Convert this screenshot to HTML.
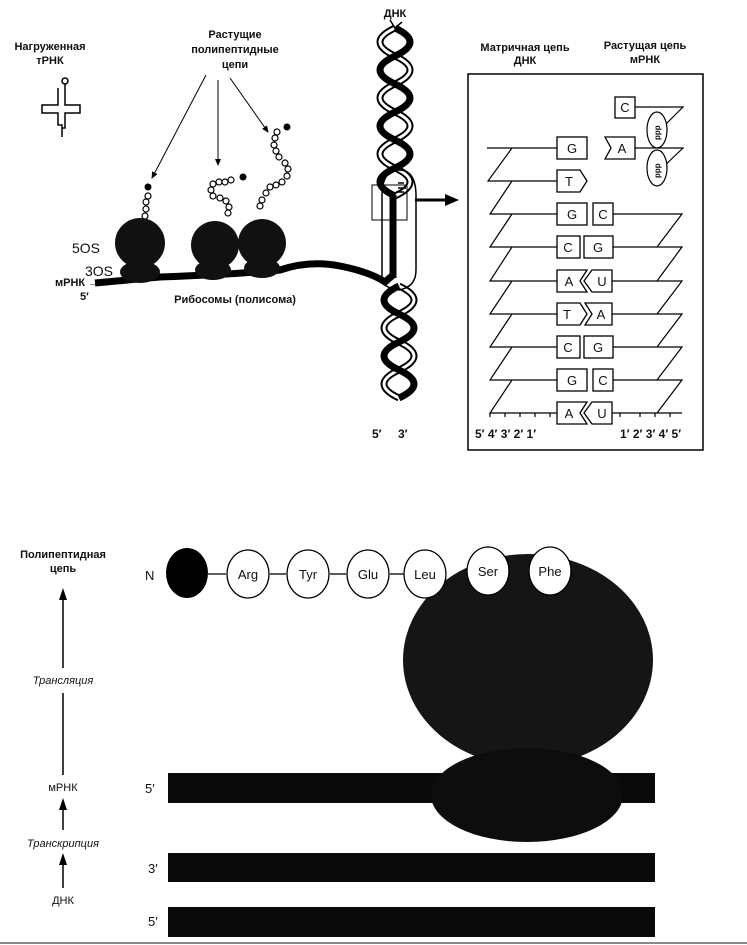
<!DOCTYPE html>
<html><head><meta charset="utf-8"><style>
body{margin:0;background:#fff;}
svg{display:block;font-family:"Liberation Sans",sans-serif;}
</style></head><body>
<svg width="747" height="945" viewBox="0 0 747 945" xmlns="http://www.w3.org/2000/svg">
<defs>
<marker id="ah" markerWidth="8" markerHeight="8" refX="6" refY="4" orient="auto"><path d="M0,1 L7,4 L0,7z" fill="#000"/></marker>
</defs>
<g font-weight="bold" font-size="11" text-anchor="middle" fill="#111">
<text x="50" y="50">Нагруженная</text><text x="50" y="64">тРНК</text>
<text x="235" y="38">Растущие</text><text x="235" y="53">полипептидные</text><text x="235" y="68">цепи</text>
<text x="395" y="17">ДНК</text>
<text x="525" y="51">Матричная  цепь</text><text x="525" y="64">ДНК</text>
<text x="645" y="49">Растущая цепь</text><text x="645" y="63">мРНК</text>
<text x="235" y="303">Рибосомы  (полисома)</text>
</g>
<!-- tRNA -->
<g stroke="#000" fill="none" stroke-width="1.5">
<circle cx="65" cy="81" r="3"/>
<path d="M65,84 V98 M58,88 V105 H42 V113 H58 V125 H62 V137 M65,98 V105 H80 V113 H65 V128 H62"/>
</g>
<!-- arrows from label -->
<g stroke="#000" stroke-width="1" fill="none" marker-end="url(#ah)">
<line x1="206" y1="75" x2="152" y2="178"/>
<line x1="218" y1="80" x2="218" y2="165"/>
<line x1="230" y1="78" x2="268" y2="132"/>
</g>
<!-- chains -->
<g stroke="#000" stroke-width="1.2" fill="#fff">
<circle cx="148" cy="196" r="3"/><circle cx="146" cy="202" r="3"/><circle cx="146" cy="209" r="3"/><circle cx="145" cy="216" r="3"/>
<circle cx="213" cy="184" r="3"/><circle cx="219" cy="182" r="3"/><circle cx="225" cy="182" r="3"/><circle cx="231" cy="180" r="3"/><circle cx="211" cy="190" r="3"/><circle cx="213" cy="196" r="3"/><circle cx="220" cy="198" r="3"/><circle cx="226" cy="201" r="3"/><circle cx="229" cy="207" r="3"/><circle cx="228" cy="213" r="3"/>
<circle cx="277" cy="132" r="3"/><circle cx="275" cy="138" r="3"/><circle cx="274" cy="145" r="3"/><circle cx="276" cy="151" r="3"/><circle cx="279" cy="157" r="3"/><circle cx="285" cy="163" r="3"/><circle cx="288" cy="169" r="3"/><circle cx="287" cy="176" r="3"/><circle cx="282" cy="182" r="3"/><circle cx="276" cy="185" r="3"/><circle cx="270" cy="187" r="3"/><circle cx="266" cy="193" r="3"/><circle cx="262" cy="200" r="3"/><circle cx="260" cy="206" r="3"/>
</g>
<circle cx="148" cy="187" r="3.5"/><circle cx="243" cy="177" r="3.5"/><circle cx="287" cy="127" r="3.5"/>
<!-- mRNA -->
<path d="M95,283 L160,277 Q240,274 280,270 Q310,260 340,266 Q370,272 385,282 L393,275 V195" stroke="#000" stroke-width="7" fill="none"/>
<!-- ribosomes -->
<g fill="#111">
<circle cx="140" cy="243" r="25"/><ellipse cx="140" cy="272" rx="20" ry="11"/>
<circle cx="215" cy="245" r="24"/><ellipse cx="213" cy="270" rx="18" ry="10"/>
<circle cx="262" cy="243" r="24"/><ellipse cx="262" cy="268" rx="18" ry="10"/>
</g>
<g font-size="14" fill="#111"><text x="72" y="253">5OS</text><text x="85" y="276">3OS</text></g>
<g font-size="11" fill="#111" font-weight="bold"><text x="55" y="286">мРНК →</text><text x="80" y="300">5′</text></g>
<!-- helix -->
<g fill="none">
<path d="M395,28 q-30,14 0,28 t0,28 t0,28 t0,28 t0,28 t0,28" stroke="#000" stroke-width="7"/>
<path d="M395,28 q-30,14 0,28 t0,28 t0,28 t0,28 t0,28 t0,28" stroke="#fff" stroke-width="3"/>
<path d="M395,28 q30,14 0,28 t0,28 t0,28 t0,28 t0,28 t0,28" stroke="#000" stroke-width="7"/>
<path d="M399,286 q30,14 0,28 t0,28 t0,28 t0,28" stroke="#000" stroke-width="7"/>
<path d="M399,286 q30,14 0,28 t0,28 t0,28 t0,28" stroke="#fff" stroke-width="3"/>
<path d="M399,286 q-30,14 0,28 t0,28 t0,28 t0,28" stroke="#000" stroke-width="7"/>
<path d="M390,20 L395,28 L402,22" stroke="#000" stroke-width="1.5"/>
<path d="M382,196 Q382,170 399,170 Q416,170 416,196 V270 Q416,287 399,290 Q382,287 382,280 Z" stroke="#000" stroke-width="1.5"/>
<rect x="372" y="185" width="35" height="35" stroke="#000" stroke-width="1"/>
<path d="M398,183 h6 M398,188 h8 M396,192 h8" stroke="#000" stroke-width="1.5"/>
</g>
<path d="M393,195 V278" stroke="#000" stroke-width="7"/>
<path d="M415,200 H448" stroke="#000" stroke-width="3"/><path d="M445,194 L459,200 L445,206z"/>
<g font-size="12" font-weight="bold" fill="#111"><text x="372" y="438">5′</text><text x="398" y="438">3′</text></g>
<!-- right box -->
<rect x="468" y="74" width="235" height="376" fill="none" stroke="#000" stroke-width="1.5"/>
<g stroke="#000" stroke-width="1.2" fill="none">
<path d="M487,148 H557 M512,148 L488,181 H557 M512,181 L490,214 H557 M512,214 L490,247 H557 M512,247 L490,281 H557 M512,281 L490,314 H557 M512,314 L490,347 H557 M512,347 L490,380 H557 M512,380 L490,413 H557 M510,413 L490,413"/>
<path d="M612,214 H682 L657,247 M612,247 H682 L657,281 M612,281 H682 L657,314 M612,314 H682 L657,347 M612,347 H682 L657,380 M612,380 H682 L657,413 M612,413 H682"/>
<path d="M490,413 v4 M505,413 v4 M520,413 v4 M535,413 v4 M550,413 v4 M620,413 v4 M640,413 v4 M655,413 v4 M670,413 v4"/>
<path d="M635,107 H683 L660,130 M635,148 H683 L660,170"/>
<ellipse cx="657" cy="130" rx="10" ry="18" fill="#fff"/><ellipse cx="657" cy="168" rx="10" ry="18" fill="#fff"/>
</g>
<g font-size="8" font-weight="bold" fill="#111"><text transform="translate(660,140) rotate(-90)">ppp</text><text transform="translate(660,178) rotate(-90)">ppp</text></g>
<g stroke="#000" stroke-width="1.3" fill="#fff">
<rect x="615" y="97" width="20" height="21"/>
<path d="M605,137 H635 V159 H605 L611,148 Z"/>
<rect x="557" y="137" width="30" height="22"/>
<path d="M557,170 H580 L587,181 L580,192 H557Z"/>
<rect x="557" y="203" width="30" height="22"/><rect x="593" y="203" width="20" height="22"/>
<rect x="557" y="236" width="23" height="22"/><rect x="584" y="236" width="29" height="22"/>
<path d="M557,270 H587 L580,281 L587,292 H557Z"/><path d="M592,270 H612 V292 H592 L584,281Z"/>
<path d="M557,303 H580 L587,314 L580,325 H557Z"/><path d="M585,303 H612 V325 H585 L592,314Z"/>
<rect x="557" y="336" width="23" height="22"/><rect x="584" y="336" width="29" height="22"/>
<rect x="557" y="369" width="30" height="22"/><rect x="593" y="369" width="20" height="22"/>
<path d="M557,402 H587 L580,413 L587,424 H557Z"/><path d="M592,402 H612 V424 H592 L584,413Z"/>
</g>
<g font-size="13" fill="#111" text-anchor="middle">
<text x="625" y="112">C</text><text x="622" y="153">A</text><text x="572" y="153">G</text><text x="569" y="186">T</text>
<text x="572" y="219">G</text><text x="603" y="219">C</text><text x="568" y="252">C</text><text x="598" y="252">G</text>
<text x="569" y="286">A</text><text x="602" y="286">U</text><text x="567" y="319">T</text><text x="601" y="319">A</text>
<text x="568" y="352">C</text><text x="598" y="352">G</text><text x="572" y="385">G</text><text x="603" y="385">C</text>
<text x="569" y="418">A</text><text x="602" y="418">U</text>
</g>
<g font-size="12" font-weight="bold" fill="#111"><text x="475" y="438">5′ 4′ 3′ 2′ 1′</text><text x="620" y="438">1′ 2′ 3′ 4′ 5′</text></g>
<!-- bottom -->
<g font-size="11" fill="#111" text-anchor="middle">
<text x="63" y="558" font-weight="bold">Полипептидная</text><text x="63" y="572" font-weight="bold">цепь</text>
<text x="63" y="684" font-style="italic">Трансляция</text>
<text x="63" y="791">мРНК</text>
<text x="63" y="847" font-style="italic">Транскрипция</text>
<text x="63" y="904">ДНК</text>
</g>
<g stroke="#000" stroke-width="1.5"><line x1="63" y1="600" x2="63" y2="668"/><line x1="63" y1="693" x2="63" y2="775"/><line x1="63" y1="808" x2="63" y2="830"/><line x1="63" y1="857" x2="63" y2="888"/></g>
<path d="M59,600 L63,588 L67,600Z M59,810 L63,798 L67,810Z M59,865 L63,853 L67,865Z"/>
<rect x="168" y="773" width="487" height="30" fill="#0a0a0a"/>
<rect x="168" y="853" width="487" height="29" fill="#0a0a0a"/>
<rect x="168" y="907" width="487" height="30" fill="#0a0a0a"/>
<ellipse cx="528" cy="660" rx="125" ry="106" fill="#151515"/>
<ellipse cx="527" cy="795" rx="96" ry="47" fill="#0d0d0d"/>
<g font-size="13" fill="#111"><text x="145" y="580">N</text><text x="145" y="793">5′</text><text x="148" y="873">3′</text><text x="148" y="926">5′</text></g>
<g stroke="#000" stroke-width="1.3"><line x1="208" y1="574" x2="226" y2="574"/><line x1="270" y1="574" x2="286" y2="574"/><line x1="330" y1="574" x2="346" y2="574"/><line x1="390" y1="574" x2="404" y2="574"/></g>
<ellipse cx="187" cy="573" rx="21" ry="25" fill="#000"/>
<g fill="#fff" stroke="#000" stroke-width="1.3">
<ellipse cx="248" cy="574" rx="21" ry="24"/><ellipse cx="308" cy="574" rx="21" ry="24"/><ellipse cx="368" cy="574" rx="21" ry="24"/><ellipse cx="425" cy="574" rx="21" ry="24"/>
<ellipse cx="488" cy="571" rx="21" ry="24"/><ellipse cx="550" cy="571" rx="21" ry="24"/>
</g>
<g font-size="13" fill="#111" text-anchor="middle"><text x="248" y="579">Arg</text><text x="308" y="579">Tyr</text><text x="368" y="579">Glu</text><text x="425" y="579">Leu</text><text x="488" y="576">Ser</text><text x="550" y="576">Phe</text></g>
<line x1="0" y1="943" x2="747" y2="943" stroke="#888" stroke-width="2"/>
</svg>
</body></html>
